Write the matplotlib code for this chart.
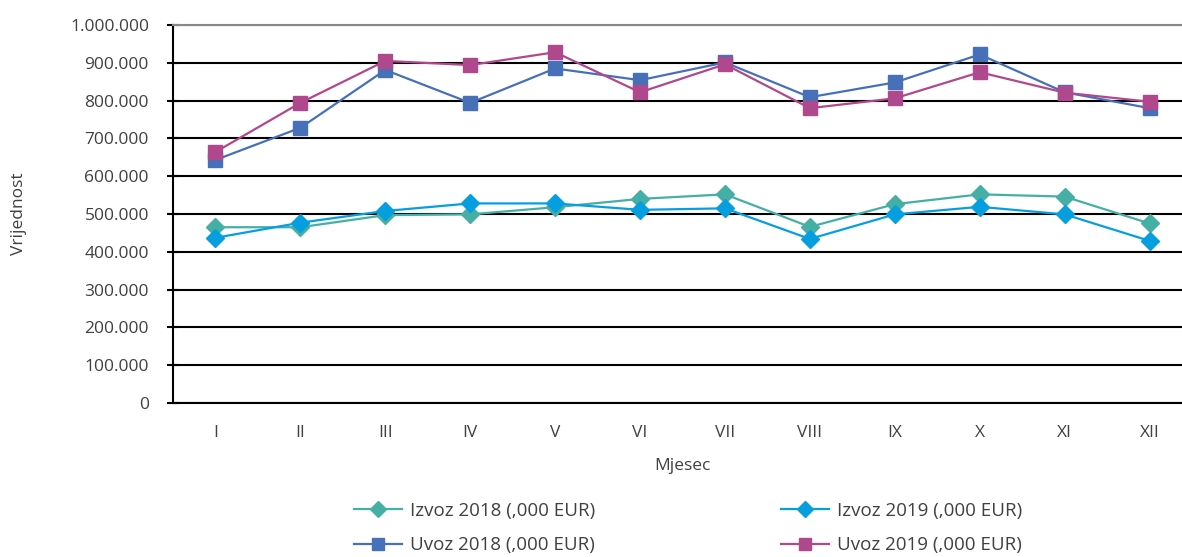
import matplotlib.pyplot as plt
import matplotlib.ticker as mticker
import numpy as np

months = ["I", "II", "III", "IV", "V", "VI", "VII", "VIII", "IX", "X", "XI", "XII"]

izvoz_2018 = [465, 465, 497, 499, 518, 540, 552, 466, 526, 552, 546, 475]
izvoz_2019 = [437, 477, 508, 528, 528, 511, 515, 434, 499, 519, 499, 429]
uvoz_2018 = [643, 728, 881, 794, 885, 854, 901, 809, 848, 922, 822, 780]
uvoz_2019 = [664, 794, 905, 894, 928, 822, 896, 780, 806, 875, 821, 797]

plt.rcParams['font.family'] = ['Open Sans', 'DejaVu Sans']
TXT = '#404040'

fig = plt.figure(figsize=(11.82, 5.57), dpi=100)
ax = fig.add_axes([173 / 1182, 1 - 403 / 557, (1192 - 173) / 1182, 378 / 557])

x = np.arange(len(months))
l1, = ax.plot(x, np.array(izvoz_2018) * 1000, color='#45AFA6', marker='D', markersize=9, lw=1.6,
              label='Izvoz 2018 (,000 EUR)')
l2, = ax.plot(x, np.array(izvoz_2019) * 1000, color='#059FE0', marker='D', markersize=9, lw=1.6,
              label='Izvoz 2019 (,000 EUR)')
l3, = ax.plot(x, np.array(uvoz_2018) * 1000, color='#4670B8', marker='s', markersize=10, lw=1.6,
              label='Uvoz 2018 (,000 EUR)')
l4, = ax.plot(x, np.array(uvoz_2019) * 1000, color='#B0488E', marker='s', markersize=10, lw=1.6,
              label='Uvoz 2019 (,000 EUR)')

ax.set_xlim(-0.5, 11.5)
ax.set_ylim(0, 1000000)
ax.set_yticks(np.arange(0, 1000001, 100000))
ax.yaxis.set_major_formatter(mticker.FuncFormatter(lambda v, p: f"{int(v):,}".replace(",", ".")))
ax.set_xticks(x)
ax.set_xticklabels(months)
ax.grid(axis='y', color='black', lw=1.5, zorder=0)
ax.set_axisbelow(True)

ax.spines['right'].set_visible(False)
ax.spines['top'].set_color('#888888')
ax.spines['top'].set_linewidth(1.5)
ax.spines['left'].set_linewidth(1.5)
ax.spines['bottom'].set_linewidth(1.5)
ax.tick_params(axis='y', direction='inout', length=8.6, width=1.5, labelsize=12.5, labelcolor=TXT, pad=13)
ax.tick_params(axis='x', length=0, labelsize=12.5, labelcolor=TXT, pad=16)

ax.set_xlabel('Mjesec', fontsize=12.5, color=TXT, labelpad=12)
ax.set_ylabel('Vrijednost', fontsize=12.5, color=TXT)
ax.yaxis.set_label_coords(-146 / 1019, 0.5)

handles = [l1, l3, l2, l4]
fig.legend(handles, [h.get_label() for h in handles], loc='center',
           bbox_to_anchor=(688 / 1182, 1 - 528 / 557), ncol=2, frameon=False,
           fontsize=13.5, labelcolor=TXT, columnspacing=9.9, handlelength=2.56, handletextpad=0.43,
           labelspacing=0.9, markerscale=0.85)

fig.savefig('out.png', dpi=100)
